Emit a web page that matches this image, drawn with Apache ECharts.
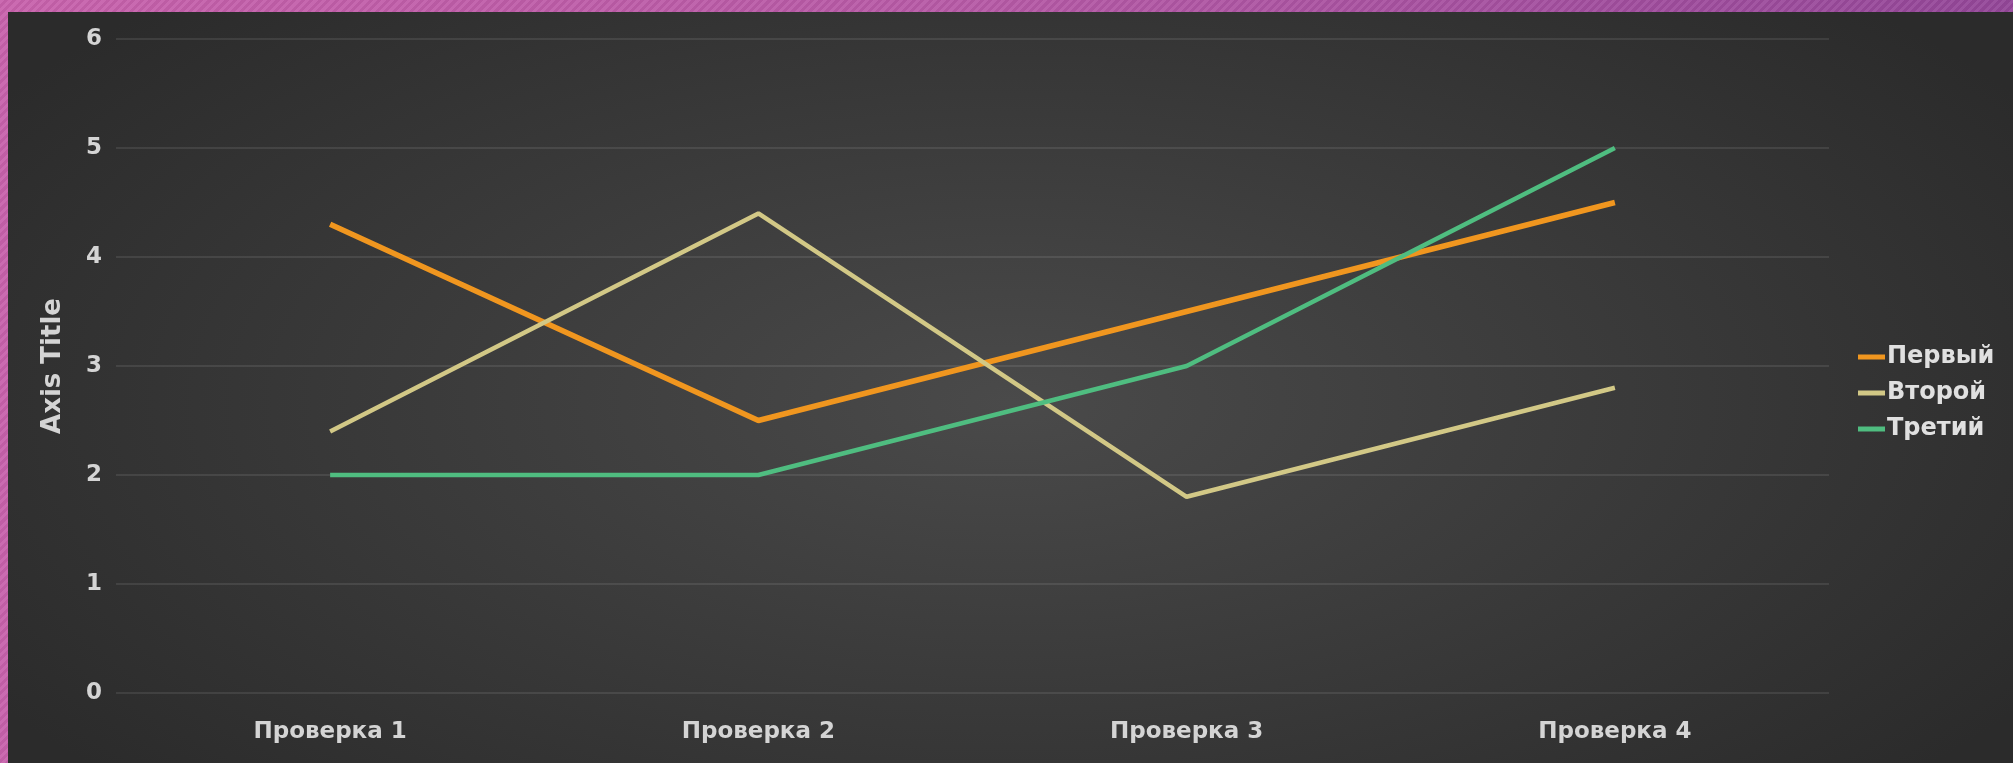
<!DOCTYPE html>
<html>
<head>
<meta charset="utf-8">
<script src="https://cdn.jsdelivr.net/npm/echarts@6/dist/echarts.min.js"></script>
<style>
html,body{margin:0;padding:0;width:2013px;height:763px;overflow:hidden;}
body{background:repeating-linear-gradient(135deg,rgba(255,255,255,0.06) 0 3px,rgba(0,0,0,0.04) 3px 6px),linear-gradient(90deg,#c862ac 0%,#b659a6 50%,#944799 100%);}
#panel{position:absolute;left:8px;top:12px;right:0;bottom:0;background:radial-gradient(ellipse 60% 75% at 50% 52%,#4a4a4a 0%,#3c3c3c 45%,#2b2b2b 100%);}
#chart{position:absolute;left:0;top:0;width:2013px;height:763px;}
</style>
</head>
<body>
<div id="panel"></div>
<div id="chart"></div>
<script>
const categories = ['Проверка 1', 'Проверка 2', 'Проверка 3', 'Проверка 4'];
const seriesNames = ['Первый', 'Второй', 'Третий'];
const firstValues = [4.3, 2.5, 3.5, 4.5];
const secondValues = [2.4, 4.4, 1.8, 2.8];
const thirdValues = [2.0, 2.0, 3.0, 5.0];
const yTicks = [0, 1, 2, 3, 4, 5, 6];

const colors = ['#f0961f', '#d2c886', '#4fbd80'];
const widths = [5.5, 4.5, 4.5];
const allValues = [firstValues, secondValues, thirdValues];

const chart = echarts.init(document.getElementById('chart'), null, {renderer: 'canvas'});
const font = 'DejaVu Sans';
const txt = '#d4d4d4';
chart.setOption({
  backgroundColor: 'transparent',
  animation: false,
  grid: {left: 116, right: 184, top: 39, bottom: 70, containLabel: false},
  legend: {
    orient: 'vertical',
    left: 1853,
    top: 339,
    itemWidth: 27,
    itemHeight: 5,
    itemGap: 10,
    icon: 'rect',
    textStyle: {color: '#e0e0e0', fontFamily: font, fontSize: 24, fontWeight: 'bold', padding: [0, 0, 0, -3], lineHeight: 26},
    data: seriesNames
  },
  xAxis: {
    type: 'category',
    data: categories,
    boundaryGap: true,
    axisLine: {show: false},
    axisTick: {show: false},
    axisLabel: {color: txt, fontFamily: font, fontSize: 23, fontWeight: 'bold', margin: 28}
  },
  yAxis: {
    type: 'value',
    min: yTicks[0],
    max: yTicks[yTicks.length - 1],
    interval: 1,
    name: 'Axis Title',
    nameLocation: 'middle',
    nameGap: 50,
    nameRotate: 90,
    nameTextStyle: {color: txt, fontFamily: font, fontSize: 26, fontWeight: 'bold'},
    axisLine: {show: false},
    axisTick: {show: false},
    axisLabel: {color: txt, fontFamily: font, fontSize: 23, fontWeight: 'bold', margin: 14},
    splitLine: {lineStyle: {color: 'rgba(255,255,255,0.09)', width: 2}}
  },
  series: seriesNames.map((name, i) => ({
    name: name,
    type: 'line',
    data: allValues[i],
    symbol: 'none',
    color: colors[i],
    lineStyle: {color: colors[i], width: widths[i]}
  }))
});
</script>
</body>
</html>
